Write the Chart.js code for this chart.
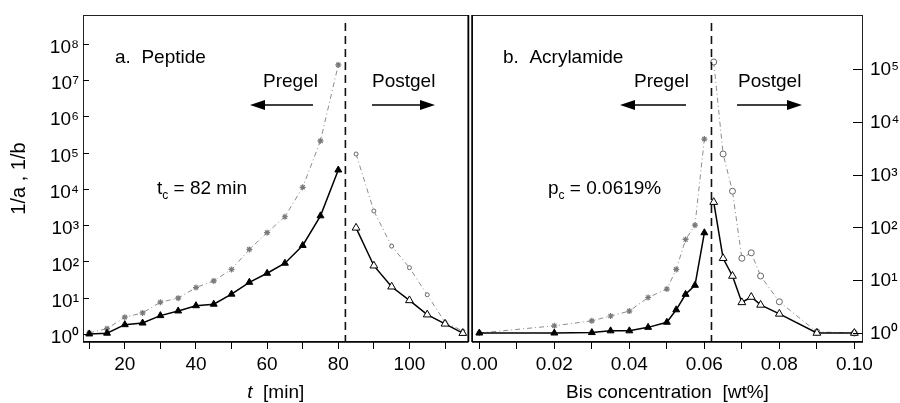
<!DOCTYPE html>
<html>
<head>
<meta charset="utf-8">
<script src="https://cdn.jsdelivr.net/npm/chart.js@4.4.0/dist/chart.umd.min.js"></script>
<style>
  html, body { margin: 0; padding: 0; background: #fff; }
  #wrap { position: relative; width: 900px; height: 403px; }
  #c1 { position: absolute; left: 0; top: 0; }
  #c2 { position: absolute; left: 440px; top: 0; }
</style>
</head>
<body>
<div id="wrap">
  <canvas id="c1" width="474" height="403"></canvas>
  <canvas id="c2" width="460" height="403"></canvas>
</div>
<script>
// a. Peptide  (t in min)
const peptidePreT = [10, 15, 20, 25, 30, 35, 40, 45, 50, 55, 60, 65, 70, 75, 80];
const peptidePreA = [1.07, 1.4, 2.9, 3.8, 7.5, 9.7, 19, 29, 60, 214, 620, 1700, 11000, 210000, 26000000];
const peptidePreB = [1.0, 1.05, 1.8, 2.0, 3.2, 4.3, 6.0, 6.6, 12.5, 26.5, 47, 89, 275, 1800, 33000];
const peptidePostT = [85, 90, 95, 100, 105, 110, 115];
const peptidePostA = [91000, 2450, 263, 67, 12, 2.1, 1.2];
const peptidePostB = [840, 76, 20, 8.4, 3.4, 1.9, 1.05];
const peptideTc = 82;
const peptideXTicks = [10, 20, 30, 40, 50, 60, 70, 80, 90, 100, 110];
const peptideYTicks = [1, 10, 1e2, 1e3, 1e4, 1e5, 1e6, 1e7, 1e8];

// b. Acrylamide  (Bis concentration in wt%)
const bisPreX = [0, 0.02, 0.03, 0.035, 0.04, 0.045, 0.05, 0.0525, 0.055, 0.0575, 0.06];
const bisPreA = [1.0, 1.37, 1.7, 2.1, 2.6, 4.7, 6.8, 16, 59, 110, 4700];
const bisPreB = [1.0, 1.0, 1.02, 1.1, 1.1, 1.28, 1.6, 2.75, 5.4, 8.0, 79];
const bisPostX = [0.0625, 0.065, 0.0675, 0.07, 0.0725, 0.075, 0.08, 0.09, 0.1];
const bisPostA = [135000, 2450, 484, 26, 33, 12, 3.9, 1.05, 1.0];
const bisPostB = [300, 26, 12, 3.8, 4.8, 3.4, 2.3, 1.0, 1.0];
const bisPc = 0.0619;
const bisXTicks = [0, 0.01, 0.02, 0.03, 0.04, 0.05, 0.06, 0.07, 0.08, 0.09, 0.10];
const bisYTicks = [1, 10, 1e2, 1e3, 1e4, 1e5];

const FONT = '"Liberation Sans", Arial, Helvetica, sans-serif';
const SUP = '⁰¹²³⁴⁵⁶⁷⁸⁹';
const GRAY = '#8c8c8c';

function pts(xs, ys) {
  return xs.map((x, i) => ({ x: x, y: ys[i] }));
}

function series(xs, ys, kind, small) {
  const ds = { data: pts(xs, ys), tension: 0, fill: false };
  if (kind === 'grayStar') {
    Object.assign(ds, { borderColor: GRAY, borderWidth: 1, borderDash: [5, 3, 1, 3],
      pointStyle: 'star', pointRadius: 3, pointBorderColor: '#7a7a7a', pointBorderWidth: 1.2 });
  } else if (kind === 'grayCircle') {
    Object.assign(ds, { borderColor: GRAY, borderWidth: 1, borderDash: [5, 3, 1, 3],
      pointStyle: 'circle', pointRadius: small ? 2 : 3, pointBackgroundColor: '#fff',
      pointBorderColor: '#666', pointBorderWidth: 1 });
  } else if (kind === 'blackFilled') {
    Object.assign(ds, { borderColor: '#000', borderWidth: 1.5,
      pointStyle: 'triangle', pointRadius: 4, pointBackgroundColor: '#000',
      pointBorderColor: '#000', pointBorderWidth: 1 });
  } else {
    Object.assign(ds, { borderColor: '#000', borderWidth: 1.5,
      pointStyle: 'triangle', pointRadius: 4.5, pointBackgroundColor: '#fff',
      pointBorderColor: '#000', pointBorderWidth: 1 });
  }
  return ds;
}

function arrow(ctx, x1, x2, y) {
  // head at x2
  const dir = x2 > x1 ? 1 : -1;
  ctx.save();
  ctx.strokeStyle = '#000';
  ctx.lineWidth = 1.5;
  ctx.beginPath();
  ctx.moveTo(x1, y);
  ctx.lineTo(x2 - dir * 10, y);
  ctx.stroke();
  ctx.fillStyle = '#000';
  ctx.beginPath();
  ctx.moveTo(x2, y);
  ctx.lineTo(x2 - dir * 15, y - 5);
  ctx.lineTo(x2 - dir * 15, y + 5);
  ctx.closePath();
  ctx.fill();
  ctx.restore();
}

function subText(ctx, x, y, main, sub, rest) {
  ctx.font = '19px ' + FONT;
  ctx.fillText(main, x, y);
  let w = ctx.measureText(main).width;
  ctx.font = '12px ' + FONT;
  ctx.fillText(sub, x + w, y + 5);
  w += ctx.measureText(sub).width;
  ctx.font = '19px ' + FONT;
  ctx.fillText(rest, x + w, y);
}

const panelPlugin = {
  id: 'panel',
  afterDatasetsDraw(chart) {
    const o = chart.options.plugins.panel;
    const ctx = chart.ctx;
    const a = chart.chartArea;
    const xs = chart.scales.x, ys = chart.scales.y;

    // critical point
    const cx = xs.getPixelForValue(o.critical);
    ctx.save();
    ctx.strokeStyle = '#111';
    ctx.lineWidth = 1.6;
    ctx.setLineDash([8, 5]);
    ctx.beginPath();
    ctx.moveTo(cx, a.top + 8);
    ctx.lineTo(cx, a.bottom);
    ctx.stroke();
    ctx.restore();

    // frame
    ctx.save();
    ctx.strokeStyle = '#222';
    ctx.lineWidth = 1;
    ctx.strokeRect(a.left + 0.5, a.top + 0.5, a.right - a.left - 1, a.bottom - a.top - 1);
    ctx.lineWidth = 1.5;
    ctx.strokeStyle = '#000';
    ctx.beginPath();
    const edge = o.yRight ? a.left : a.right;
    ctx.moveTo(edge, a.top);
    ctx.lineTo(edge, a.bottom);
    ctx.moveTo(a.left, a.bottom);
    ctx.lineTo(a.right, a.bottom);
    ctx.stroke();

    // inward decade ticks
    ctx.lineWidth = 1;
    ctx.beginPath();
    o.yTicks.forEach(v => {
      const py = Math.round(ys.getPixelForValue(v)) + 0.5;
      if (o.yRight) {
        ctx.moveTo(a.right, py);
        ctx.lineTo(a.right - o.tickIn, py);
      } else {
        ctx.moveTo(a.left, py);
        ctx.lineTo(a.left + o.tickIn, py);
      }
    });
    ctx.stroke();
    ctx.restore();

    // annotations
    ctx.save();
    ctx.fillStyle = '#000';
    ctx.textBaseline = 'alphabetic';
    ctx.textAlign = 'left';
    ctx.font = '19px ' + FONT;
    ctx.fillText(o.label, o.labelX, 63);
    ctx.fillText('Pregel', o.preX, 87);
    ctx.fillText('Postgel', o.postX, 87);
    arrow(ctx, o.arrowL[1], o.arrowL[0], 105);
    arrow(ctx, o.arrowR[0], o.arrowR[1], 105);
    subText(ctx, o.critX, 194, o.critMain, 'c', o.critRest);

    // x title
    const cxT = (a.left + a.right) / 2;
    ctx.font = 'italic 19px ' + FONT;
    const w1 = ctx.measureText(o.xTitleItalic).width;
    ctx.font = '19px ' + FONT;
    const w2 = ctx.measureText(o.xTitle).width;
    let x0 = cxT - (w1 + w2) / 2;
    ctx.font = 'italic 19px ' + FONT;
    ctx.fillText(o.xTitleItalic, x0, 398);
    ctx.font = '19px ' + FONT;
    ctx.fillText(o.xTitle, x0 + w1, 398);

    // y title
    if (o.yTitle) {
      ctx.font = '20px ' + FONT;
      ctx.translate(25, (a.top + a.bottom) / 2);
      ctx.rotate(-Math.PI / 2);
      ctx.textAlign = 'center';
      ctx.fillText(o.yTitle, 0, 0);
    }
    ctx.restore();
  }
};

function buildChart(id, o) {
  return new Chart(document.getElementById(id), {
    type: 'line',
    data: { datasets: o.datasets },
    options: {
      responsive: false,
      animation: false,
      events: [],
      layout: { padding: o.padding },
      plugins: { legend: { display: false }, tooltip: { enabled: false }, panel: o.panel },
      scales: {
        x: {
          type: 'linear', min: o.xMin, max: o.xMax,
          afterFit: s => { s.height = 61; s.paddingLeft = 0; s.paddingRight = 0; },
          afterBuildTicks: s => { s.ticks = o.xTicks.map(v => ({ value: v })); },
          grid: { drawOnChartArea: false, drawTicks: true, tickLength: 7, color: '#000', lineWidth: 1 },
          border: { display: false },
          ticks: { color: '#000', font: { family: FONT, size: 19 }, padding: 4,
            maxRotation: 0, autoSkip: false, callback: o.xLabel }
        },
        y: {
          type: 'logarithmic', position: o.panel.yRight ? 'right' : 'left',
          min: o.yMin, max: o.yMax,
          afterFit: s => { s.width = o.yWidth; s.paddingTop = 0; s.paddingBottom = 0; },
          afterBuildTicks: s => { s.ticks = o.panel.yTicks.map(v => ({ value: v })); },
          grid: { display: false, drawTicks: false },
          border: { display: false },
          ticks: { color: '#000', font: { family: FONT, size: 19 }, padding: o.yPad,
            autoSkip: false, labelOffset: o.labelOffset,
            callback: v => '10' + SUP[Math.round(Math.log10(v))] }
        }
      }
    },
    plugins: [panelPlugin]
  });
}

buildChart('c1', {
  datasets: [
    series(peptidePreT, peptidePreB, 'blackFilled'),
    series(peptidePostT, peptidePostB, 'blackOpen'),
    series(peptidePreT, peptidePreA, 'grayStar'),
    series(peptidePostT, peptidePostA, 'grayCircle', true)
  ],
  padding: { top: 15, right: 2, left: 0, bottom: 0 },
  xMin: 8.25, xMax: 116.6,
  xTicks: peptideXTicks,
  xLabel: v => (v % 20 === 0 ? String(v) : ''),
  yMin: Math.pow(10, -0.19), yMax: Math.pow(10, 8.79),
  yWidth: 83, yPad: 4, labelOffset: 4,
  panel: {
    critical: peptideTc, yTicks: peptideYTicks, yRight: false, tickIn: 6,
    label: 'a.  Peptide', labelX: 115,
    preX: 263, postX: 372,
    arrowL: [250, 313], arrowR: [372, 435],
    critX: 157, critMain: 't', critRest: ' = 82 min',
    xTitleItalic: 't', xTitle: '  [min]',
    yTitle: '1/a , 1/b'
  }
});

buildChart('c2', {
  datasets: [
    series(bisPreX, bisPreB, 'blackFilled'),
    series(bisPostX, bisPostB, 'blackOpen'),
    series(bisPreX, bisPreA, 'grayStar'),
    series(bisPostX, bisPostA, 'grayCircle', false)
  ],
  padding: { top: 15, right: 0, left: 32, bottom: 0 },
  xMin: -0.00195, xMax: 0.1023,
  xTicks: bisXTicks,
  xLabel: v => (Math.round(v * 100) % 2 === 0 ? v.toFixed(2) : ''),
  yMin: Math.pow(10, -0.17), yMax: Math.pow(10, 6.02),
  yWidth: 37, yPad: 7, labelOffset: 1,
  panel: {
    critical: bisPc, yTicks: bisYTicks, yRight: true, tickIn: 10,
    label: 'b.  Acrylamide', labelX: 63,
    preX: 194, postX: 298,
    arrowL: [180, 246], arrowR: [297, 362],
    critX: 108, critMain: 'p', critRest: ' = 0.0619%',
    xTitleItalic: '', xTitle: 'Bis concentration  [wt%]',
    yTitle: ''
  }
});
</script>
</body>
</html>
